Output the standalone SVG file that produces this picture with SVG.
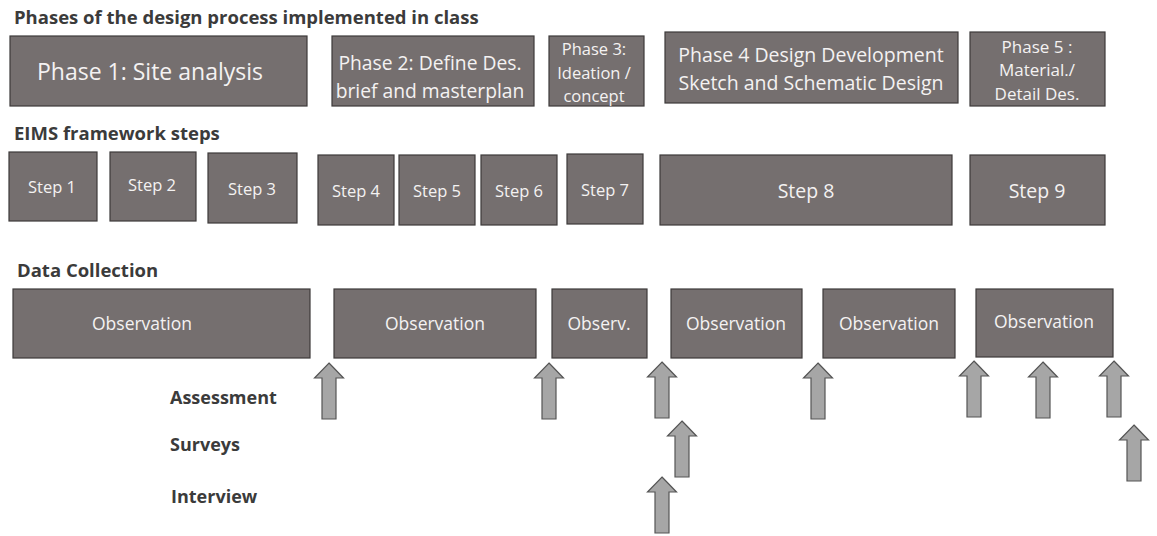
<svg xmlns="http://www.w3.org/2000/svg" xmlns:xlink="http://www.w3.org/1999/xlink" width="1157" height="536" viewBox="0 0 1157 536">
  <style>
    .box { fill: #756f6f; stroke: #3d3a3a; stroke-width: 1.2; }
    .bt { fill: #f4f2f2; font-family: "Open Sans", "Noto Sans", "Liberation Sans", sans-serif; text-anchor: middle; dominant-baseline: central; }
    .hd { fill: #3b3b3b; font-family: "Open Sans", "Noto Sans", "Liberation Sans", sans-serif; font-weight: bold; font-size: 18.5px; }
    .lb { fill: #3b3b3b; font-family: "Open Sans", "Noto Sans", "Liberation Sans", sans-serif; font-weight: bold; font-size: 18px; }
    .arrow { fill: #a6a6a6; stroke: #555555; stroke-width: 1.2; stroke-linejoin: miter; }
  </style>
  <defs>
    <!-- block arrow pointing up, tip at origin -->
    <path id="up-arrow" d="M0,0 L14.5,15 L7,15 L7,56 L-7,56 L-7,15 L-14.5,15 Z"/>
  </defs>
  <rect width="1157" height="536" fill="#ffffff"/>

  <!-- section headings -->
  <g id="headings">
    <text class="hd" x="14" y="24">Phases of the design process implemented in class</text>
    <text class="hd" x="14" y="140">EIMS framework steps</text>
    <text class="hd" x="17" y="277">Data Collection</text>
  </g>

  <!-- design phases -->
  <g id="phase1">
    <rect class="box" x="10" y="36" width="297" height="70"/>
    <text class="bt" x="150" y="71" font-size="23">Phase 1: Site analysis</text>
  </g>
  <g id="phase2">
    <rect class="box" x="332" y="36" width="202" height="70"/>
    <text class="bt" x="430" y="62" font-size="19.3">Phase 2: Define Des.</text>
    <text class="bt" x="430" y="90" font-size="19.3">brief and masterplan</text>
  </g>
  <g id="phase3">
    <rect class="box" x="549" y="36" width="95" height="70"/>
    <text class="bt" x="594" y="48" font-size="16.5">Phase 3:</text>
    <text class="bt" x="594" y="72" font-size="16.5">Ideation /</text>
    <text class="bt" x="594" y="95" font-size="16.5">concept</text>
  </g>
  <g id="phase4">
    <rect class="box" x="665" y="32" width="293" height="71"/>
    <text class="bt" x="811" y="54" font-size="19.5">Phase 4 Design Development</text>
    <text class="bt" x="811" y="82" font-size="19.5">Sketch and Schematic Design</text>
  </g>
  <g id="phase5">
    <rect class="box" x="970" y="32" width="135" height="74"/>
    <text class="bt" x="1037" y="46" font-size="17">Phase 5 :</text>
    <text class="bt" x="1037" y="69" font-size="17">Material./</text>
    <text class="bt" x="1037" y="93" font-size="17">Detail Des.</text>
  </g>

  <!-- EIMS steps -->
  <g id="step1">
    <rect class="box" x="9" y="152" width="88" height="69"/>
    <text class="bt" x="52" y="186" font-size="16.5">Step 1</text>
  </g>
  <g id="step2">
    <rect class="box" x="110" y="152" width="86" height="69"/>
    <text class="bt" x="152" y="184" font-size="16.5">Step 2</text>
  </g>
  <g id="step3">
    <rect class="box" x="208" y="153" width="89" height="70"/>
    <text class="bt" x="252" y="188" font-size="16.5">Step 3</text>
  </g>
  <g id="step4">
    <rect class="box" x="318" y="155" width="76" height="70"/>
    <text class="bt" x="356" y="190" font-size="16.5">Step 4</text>
  </g>
  <g id="step5">
    <rect class="box" x="399" y="155" width="76" height="70"/>
    <text class="bt" x="437" y="190" font-size="16.5">Step 5</text>
  </g>
  <g id="step6">
    <rect class="box" x="481" y="155" width="76" height="70"/>
    <text class="bt" x="519" y="190" font-size="16.5">Step 6</text>
  </g>
  <g id="step7">
    <rect class="box" x="567" y="154" width="76" height="70"/>
    <text class="bt" x="605" y="189" font-size="16.5">Step 7</text>
  </g>
  <g id="step8">
    <rect class="box" x="660" y="155" width="292" height="70"/>
    <text class="bt" x="806" y="190" font-size="19.5">Step 8</text>
  </g>
  <g id="step9">
    <rect class="box" x="970" y="155" width="135" height="70"/>
    <text class="bt" x="1037" y="190" font-size="19.5">Step 9</text>
  </g>

  <!-- data collection -->
  <g id="obs1">
    <rect class="box" x="13" y="289" width="297" height="69"/>
    <text class="bt" x="142" y="323" font-size="17.5">Observation</text>
  </g>
  <g id="obs2">
    <rect class="box" x="334" y="289" width="202" height="69"/>
    <text class="bt" x="435" y="323" font-size="17.5">Observation</text>
  </g>
  <g id="obs3">
    <rect class="box" x="552" y="289" width="95" height="69"/>
    <text class="bt" x="599" y="323" font-size="17.5">Observ.</text>
  </g>
  <g id="obs4">
    <rect class="box" x="671" y="289" width="131" height="69"/>
    <text class="bt" x="736" y="323" font-size="17.5">Observation</text>
  </g>
  <g id="obs5">
    <rect class="box" x="823" y="289" width="132" height="69"/>
    <text class="bt" x="889" y="323" font-size="17.5">Observation</text>
  </g>
  <g id="obs6">
    <rect class="box" x="976" y="289" width="137" height="68"/>
    <text class="bt" x="1044" y="321" font-size="17.5">Observation</text>
  </g>

  <!-- method labels -->
  <g id="methods">
    <text class="lb" x="170" y="404">Assessment</text>
    <text class="lb" x="170" y="451">Surveys</text>
    <text class="lb" x="171" y="503">Interview</text>
  </g>

  <!-- method arrows into the collection blocks -->
  <g id="connectors">
    <use class="arrow" xlink:href="#up-arrow" href="#up-arrow" x="329" y="363"/>
    <use class="arrow" xlink:href="#up-arrow" href="#up-arrow" x="549" y="363"/>
    <use class="arrow" xlink:href="#up-arrow" href="#up-arrow" x="662" y="362"/>
    <use class="arrow" xlink:href="#up-arrow" href="#up-arrow" x="682" y="421"/>
    <use class="arrow" xlink:href="#up-arrow" href="#up-arrow" x="662" y="477"/>
    <use class="arrow" xlink:href="#up-arrow" href="#up-arrow" x="818" y="363"/>
    <use class="arrow" xlink:href="#up-arrow" href="#up-arrow" x="974" y="361"/>
    <use class="arrow" xlink:href="#up-arrow" href="#up-arrow" x="1043" y="362"/>
    <use class="arrow" xlink:href="#up-arrow" href="#up-arrow" x="1114" y="361"/>
    <use class="arrow" xlink:href="#up-arrow" href="#up-arrow" x="1134" y="425"/>
  </g>
</svg>
